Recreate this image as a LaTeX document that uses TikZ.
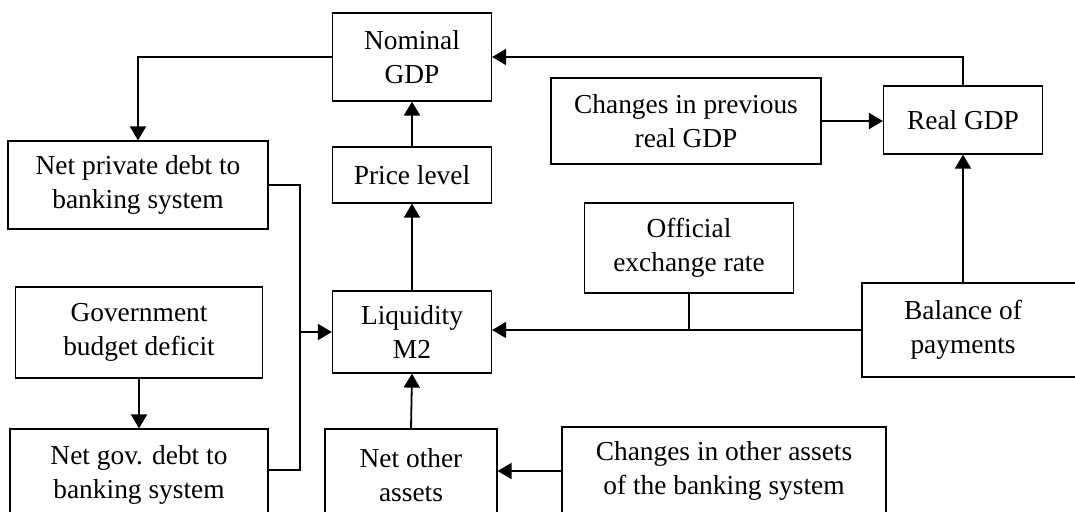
\documentclass[tikz,border=0pt]{standalone}
\usepackage{fontspec}
\setmainfont{Liberation Serif}
\usepackage{tikz}
\usetikzlibrary{arrows.meta}

\begin{document}
\begin{tikzpicture}[x=0.5pt,y=-0.5pt,
  block/.style={rectangle,draw,line width=0.6pt,align=center,inner sep=0pt,
    font=\fontsize{13.7}{17}\selectfont},
  link/.style={line width=0.9pt,-{Triangle[length=7pt,width=8pt]}}]
\useasboundingbox (0,0) rectangle (1075,511);
\clip (0,0) rectangle (1075,511);

% Output layer
\node[block,minimum width=79.5pt,minimum height=44pt] (nominal) at (412,57) {Nominal\\GDP};
\node[block,minimum width=79.5pt,minimum height=28pt] (price) at (412,175) {Price level};
\node[block,minimum width=79.5pt,minimum height=34pt] (real) at (963,120) {Real GDP};
\node[block,minimum width=135pt,minimum height=43pt] (prevgdp) at (686,121) {Changes in previous\\real GDP};

% Money layer
\node[block,minimum width=79.5pt,minimum height=41pt] (liquidity) at (412,332) {Liquidity\\M2};
\node[block,minimum width=104.5pt,minimum height=45pt] (exrate) at (689,248) {Official\\exchange rate};
\node[block,minimum width=120pt,minimum height=47pt] (balance) at (982,330)
  {\begin{tabular}{@{}c@{}}Balance of\\payments\end{tabular}\hspace*{19pt}};

% Debt layer
\node[block,minimum width=130pt,minimum height=44pt] (privdebt) at (138,185) {Net private debt to\\banking system};
\node[block,minimum width=123.5pt,minimum height=45.5pt] (deficit) at (139,332.5) {Government\\budget deficit};
\node[block,minimum width=129pt,minimum height=46pt] (govdebt) at (139,475) {Net gov. debt to\\banking system};

% Assets layer
\node[block,minimum width=86pt,minimum height=46pt] (otherassets) at (411,475) {Net other\\assets};
\node[block,minimum width=162pt,minimum height=44pt] (bankassets) at (724,471) {Changes in other assets\\of the banking system};

% Joints
\coordinate (debtbus) at (300,332);
\coordinate (ratejoin) at (exrate.south |- balance.west);

% Arrows
\draw[link] (nominal.west) -| (privdebt.north);
\draw[link] (real.north) |- (nominal.east);
\draw[link] (price.north) -- (nominal.south);
\draw[link] (liquidity.north) -- (price.south);
\draw[link] (prevgdp.east) -- (prevgdp.east -| real.west);
\draw[link] (real.south |- balance.north) -- (real.south);
\draw[line width=0.9pt] (privdebt.east) -| (debtbus) |- ([yshift=2.5pt]govdebt.east);
\draw[link] (debtbus) -- (liquidity.west);
\draw[link] (deficit.south) -- (govdebt.north);
\draw[link] (otherassets.north) -- (liquidity.south);
\draw[link] (bankassets.west) -- (bankassets.west -| otherassets.east);
\draw[link] (balance.west) -- (balance.west -| liquidity.east);
\draw[line width=0.9pt] (exrate.south) -- (ratejoin);
\end{tikzpicture}
\end{document}
